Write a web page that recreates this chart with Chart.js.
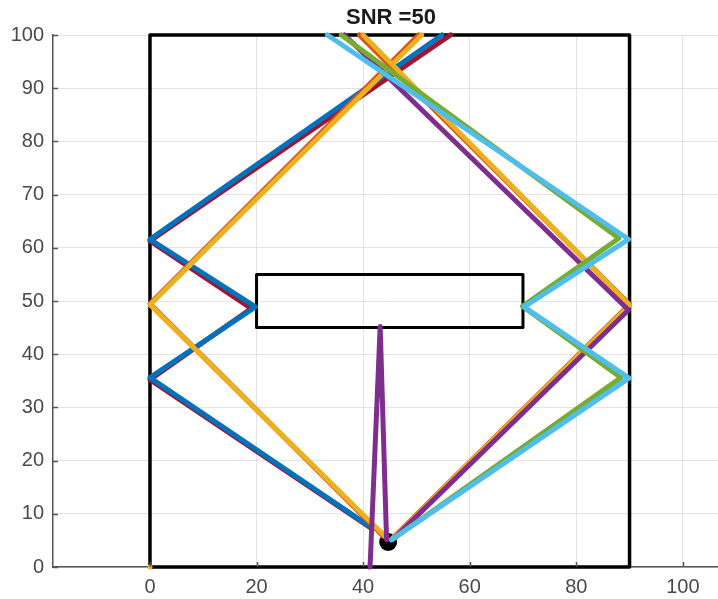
<!DOCTYPE html>
<html>
<head>
<meta charset="utf-8">
<script src="https://cdn.jsdelivr.net/npm/chart.js@4/dist/chart.umd.min.js"></script>
<style>
  html, body { margin: 0; padding: 0; background: #ffffff; }
  #c { display: block; }
</style>
</head>
<body>
<canvas id="c" width="718" height="599"></canvas>
<script>
// ---- Data ----
const titleText = "SNR =50";
const xTicks = [0, 20, 40, 60, 80, 100];
const yTicks = [0, 10, 20, 30, 40, 50, 60, 70, 80, 90, 100];

// walls
const roomX = [0, 90, 90, 0, 0];
const roomY = [0, 0, 100, 100, 0];
const boxX = [20, 70, 70, 20, 20];
const boxY = [45, 45, 55, 55, 45];

// source
const sourceX = [44.7];
const sourceY = [4.7];

// rays (x, y of each path vertex)
const redX = [41.5, 0, 19.0, 0, 56.4];
const redY = [7.3, 35.2, 48.6, 61.3, 100];
const blueX = [41.3, 0, 19.8, 0, 54.8];
const blueY = [7.6, 35.6, 48.9, 61.6, 100];
const orangeLeftX = [43.8, 0, 50.4];
const orangeLeftY = [5.8, 49.5, 100];
const yellowLeftX = [44.2, 0, 51.0];
const yellowLeftY = [5.7, 49.3, 100];
const orangeRightX = [45.3, 90, 39.3];
const orangeRightY = [5.2, 49.4, 100];
const yellowRightX = [45.4, 90, 40.0];
const yellowRightY = [5.2, 49.2, 100];
const purpleRightX = [45.6, 89.8, 36.5];
const purpleRightY = [5.2, 48.3, 100];
const greenX = [45.8, 88.4, 69.9, 88.0, 35.9];
const greenY = [5.4, 35.6, 49.0, 61.8, 100];
const cyanX = [45.3, 89.9, 70.2, 89.8, 33.3];
const cyanY = [5.1, 35.5, 48.9, 61.6, 100];
const purpleVertX = [44.4, 43.2, 41.3];
const purpleVertY = [5.1, 45.2, 0];
const originDotX = [0];
const originDotY = [0];

// ---- helpers ----
function pts(xs, ys) { return xs.map((x, i) => ({ x: x, y: ys[i] })); }
function line(label, xs, ys, color, width) {
  return {
    label: label, data: pts(xs, ys), showLine: true, borderColor: color,
    backgroundColor: color, borderWidth: width, pointRadius: 0,
    fill: false, tension: 0, clip: false,
    borderJoinStyle: 'round', borderCapStyle: 'round'
  };
}
function dots(label, xs, ys, color, r) {
  return {
    label: label, data: pts(xs, ys), showLine: false,
    pointRadius: r, pointHoverRadius: r, pointBorderWidth: 0,
    backgroundColor: color, borderColor: color, clip: false
  };
}

const C = {
  blue: '#0072BD', orange: '#D95319', yellow: '#EDB120', purple: '#7E2F8E',
  green: '#77AC30', cyan: '#4DBEEE', red: '#A2142F'
};

const RW = 5;
// drawing order: bottom first
const drawOrder = [
  line('room', roomX, roomY, '#000000', 3.5),
  line('box', boxX, boxY, '#000000', 3),
  dots('source', sourceX, sourceY, '#000000', 9),
  line('ray7', redX, redY, C.red, RW),
  line('ray1', blueX, blueY, C.blue, RW),
  line('ray2', orangeLeftX, orangeLeftY, C.orange, RW),
  line('ray3', yellowLeftX, yellowLeftY, C.yellow, RW),
  line('ray9', orangeRightX, orangeRightY, C.orange, RW),
  line('ray10', yellowRightX, yellowRightY, C.yellow, RW),
  line('ray4', purpleRightX, purpleRightY, C.purple, RW),
  line('ray5', greenX, greenY, C.green, RW),
  line('ray6', cyanX, cyanY, C.cyan, RW),
  line('ray11', purpleVertX, purpleVertY, C.purple, RW),
  dots('origin', originDotX, originDotY, C.yellow, 2.5)
];
const datasets = drawOrder.slice().reverse(); // Chart.js draws first dataset on top

const axisColor = '#555555';
const labelColor = '#4a4a4a';
const tickFont = { family: "'Liberation Sans', Arial, sans-serif", size: 20 };

const titlePlugin = {
  id: 'titleText',
  afterDraw(chart) {
    const ctx = chart.ctx;
    ctx.save();
    ctx.font = "bold 22px 'Liberation Sans', Arial, sans-serif";
    ctx.fillStyle = '#1a1a1a';
    ctx.textAlign = 'center';
    ctx.textBaseline = 'middle';
    ctx.fillText(titleText, 391, 18);
    ctx.restore();
  }
};

const innerTicks = {
  id: 'innerTicks',
  afterDatasetsDraw(chart) {
    const ctx = chart.ctx;
    const xs = chart.scales.x, ys = chart.scales.y;
    const a = chart.chartArea;
    ctx.save();
    ctx.strokeStyle = axisColor;
    ctx.lineWidth = 1.5;
    ctx.beginPath();
    xTicks.forEach(v => {
      const px = Math.round(xs.getPixelForValue(v)) + 0.5;
      ctx.moveTo(px, a.bottom);
      ctx.lineTo(px, a.bottom - 5);
    });
    yTicks.forEach(v => {
      const py = Math.round(ys.getPixelForValue(v)) + 0.5;
      ctx.moveTo(a.left, py);
      ctx.lineTo(a.left + 5, py);
    });
    ctx.stroke();
    ctx.restore();
  }
};

new Chart(document.getElementById('c'), {
  type: 'scatter',
  data: { datasets: datasets },
  options: {
    responsive: false,
    animation: false,
    devicePixelRatio: 1,
    layout: { autoPadding: false, padding: { top: 35, left: 0, right: 0, bottom: 0 } },
    plugins: { legend: { display: false }, tooltip: { enabled: false }, title: { display: false } },
    scales: {
      x: {
        type: 'linear', min: -18.2, max: 106.6,
        afterBuildTicks: s => { s.ticks = xTicks.map(v => ({ value: v })); },
        afterFit: s => { s.height = 32; s.paddingLeft = 0; s.paddingRight = 0; },
        grid: { color: '#e3e3e3', lineWidth: 1, drawTicks: false },
        border: { display: true, color: axisColor, width: 1.5 },
        ticks: { color: labelColor, font: tickFont, padding: 8, maxRotation: 0, autoSkip: false }
      },
      y: {
        type: 'linear', min: 0, max: 100,
        afterBuildTicks: s => { s.ticks = yTicks.map(v => ({ value: v })); },
        afterFit: s => { s.width = 53; s.paddingTop = 0; s.paddingBottom = 0; },
        grid: { color: '#e3e3e3', lineWidth: 1, drawTicks: false },
        border: { display: true, color: axisColor, width: 1.5 },
        ticks: { color: labelColor, font: tickFont, padding: 9, autoSkip: false }
      }
    }
  },
  plugins: [titlePlugin, innerTicks]
});
</script>
</body>
</html>
